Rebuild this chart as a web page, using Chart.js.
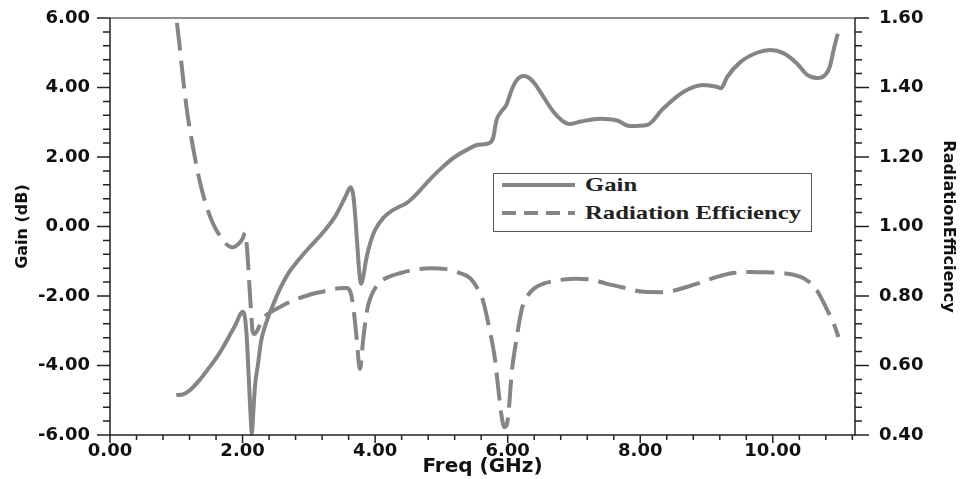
<!DOCTYPE html>
<html>
<head>
<meta charset="utf-8">
<script src="https://cdn.jsdelivr.net/npm/chart.js@4.4.1/dist/chart.umd.min.js"></script>
<style>
  html, body { margin: 0; padding: 0; background: #fff; }
  #wrap { position: relative; width: 961px; height: 479px; }
  #legend { position: absolute; left: 493px; top: 173px; width: 319px; height: 59px;
            border: 1.5px solid #555; background: #fff; box-sizing: border-box; }
  .row { position: absolute; left: 0; height: 24px; width: 100%; }
  .row svg { position: absolute; left: 8px; top: 9px; }
  .row span { position: absolute; left: 91px; top: 0; font-family: "Liberation Serif", serif;
              font-weight: bold; font-size: 19px; line-height: 24px; color: #222;
              transform: scaleX(1.3); transform-origin: left center; white-space: nowrap; }
</style>
</head>
<body>
<div id="wrap">
  <canvas id="c" width="961" height="479"></canvas>
  <div id="legend">
    <div class="row" style="top:-1px">
      <svg width="73" height="6"><line x1="0" y1="3" x2="73" y2="3" stroke="#858585" stroke-width="4"/></svg>
      <span id="lg0"></span>
    </div>
    <div class="row" style="top:27px">
      <svg width="73" height="6"><line x1="0" y1="3" x2="73" y2="3" stroke="#858585" stroke-width="4" stroke-dasharray="14 8"/></svg>
      <span id="lg1"></span>
    </div>
  </div>
</div>
<script>
// ---- data ----
const seriesNames = ["Gain", "Radiation Efficiency"];
const axisTitles = ["Freq (GHz)", "Gain (dB)", "RadiationEfficiency"];

const gainFreq = [1.00,1.10,1.20,1.35,1.50,1.65,1.80,1.90,1.96,2.00,2.03,2.06,2.09,2.12,2.14,2.16,2.19,2.23,2.28,2.36,2.45,2.55,2.70,2.85,3.00,3.20,3.40,3.55,3.63,3.67,3.70,3.73,3.76,3.79,3.82,3.87,3.93,4.00,4.12,4.25,4.38,4.48,4.60,4.80,5.00,5.20,5.40,5.55,5.72,5.78,5.83,5.90,5.98,6.06,6.14,6.24,6.32,6.42,6.54,6.69,6.82,6.94,7.10,7.40,7.65,7.85,8.10,8.35,8.65,8.95,9.15,9.22,9.31,9.51,9.76,9.96,10.16,10.36,10.52,10.67,10.80,10.86,10.92,10.98];
const gainVals = [-4.85,-4.83,-4.72,-4.42,-4.05,-3.65,-3.15,-2.80,-2.55,-2.45,-2.55,-3.10,-4.20,-5.40,-5.95,-5.40,-4.55,-4.00,-3.30,-2.75,-2.30,-1.85,-1.32,-0.95,-0.62,-0.20,0.30,0.85,1.13,0.90,0.30,-0.50,-1.30,-1.65,-1.45,-0.90,-0.45,-0.10,0.24,0.45,0.58,0.68,0.88,1.30,1.68,2.00,2.22,2.35,2.40,2.55,3.05,3.30,3.50,3.93,4.22,4.33,4.28,4.08,3.73,3.30,3.05,2.95,3.02,3.10,3.05,2.89,2.92,3.40,3.87,4.07,4.02,3.98,4.30,4.73,5.00,5.08,4.99,4.70,4.36,4.27,4.38,4.60,5.10,5.55];

const effFreq = [1.01,1.05,1.10,1.16,1.26,1.36,1.46,1.55,1.65,1.75,1.85,1.94,2.00,2.04,2.07,2.10,2.13,2.15,2.18,2.22,2.27,2.33,2.44,2.60,2.80,3.00,3.22,3.45,3.57,3.63,3.67,3.72,3.77,3.82,3.87,3.92,4.05,4.22,4.40,4.60,4.83,5.05,5.25,5.43,5.55,5.63,5.73,5.81,5.86,5.91,5.95,5.99,6.02,6.06,6.13,6.21,6.30,6.40,6.55,6.75,7.04,7.29,7.50,7.75,8.05,8.35,8.65,8.90,9.16,9.40,9.66,9.90,10.16,10.42,10.55,10.67,10.82,10.92,10.99];
const effVals = [1.586,1.52,1.43,1.335,1.22,1.125,1.056,1.01,0.975,0.950,0.940,0.950,0.965,0.982,0.93,0.84,0.75,0.70,0.69,0.70,0.72,0.74,0.755,0.772,0.790,0.803,0.813,0.822,0.823,0.81,0.77,0.68,0.59,0.675,0.75,0.79,0.836,0.856,0.867,0.876,0.880,0.878,0.868,0.852,0.82,0.785,0.70,0.616,0.53,0.452,0.423,0.432,0.48,0.578,0.673,0.76,0.800,0.822,0.836,0.845,0.850,0.846,0.835,0.824,0.812,0.811,0.823,0.838,0.855,0.866,0.869,0.868,0.866,0.855,0.840,0.815,0.76,0.72,0.682];

// axis ranges / tick steps
const xRange = [0, 11.24], xStep = 0.4, xMajor = 2;
const gainRange = [-6, 6], gainStep = 0.4, gainMajor = 2;
const effRange = [0.4, 1.6], effStep = 0.04, effMajor = 0.2;

document.getElementById('lg0').textContent = seriesNames[0];
document.getElementById('lg1').textContent = seriesNames[1];

const LINE = '#858585';
const tickFont = { family: 'DejaVu Sans', weight: 'bold', size: 18 };
const titleFont = { family: 'DejaVu Sans', weight: 'bold', size: 16 };
const isMajor = (v, m) => Math.abs(v / m - Math.round(v / m)) < 1e-6;

const framePlugin = {
  id: 'framePlugin',
  afterDatasetsDraw(chart) {
    const { ctx, chartArea: a, scales } = chart;
    ctx.save();
    ctx.lineWidth = 1.5;
    ctx.strokeStyle = '#666';
    ctx.beginPath(); ctx.moveTo(a.left, a.top); ctx.lineTo(a.right, a.top); ctx.stroke();
    ctx.strokeStyle = '#222';
    ctx.beginPath();
    ctx.moveTo(a.left, a.top); ctx.lineTo(a.left, a.bottom); ctx.lineTo(a.right, a.bottom); ctx.lineTo(a.right, a.top);
    ctx.stroke();
    ctx.beginPath();
    scales.y.ticks.forEach(t => {
      const p = scales.y.getPixelForValue(t.value);
      ctx.moveTo(a.left, p); ctx.lineTo(a.left - (isMajor(t.value, gainMajor) ? 13 : 7), p);
    });
    scales.y1.ticks.forEach(t => {
      const p = scales.y1.getPixelForValue(t.value);
      ctx.moveTo(a.right, p); ctx.lineTo(a.right + (isMajor(t.value, effMajor) ? 14 : 7), p);
    });
    scales.x.ticks.forEach(t => {
      const p = scales.x.getPixelForValue(t.value);
      ctx.moveTo(p, a.bottom); ctx.lineTo(p, a.bottom + (isMajor(t.value, xMajor) ? 8 : 5));
    });
    ctx.stroke();
    ctx.restore();
  }
};

const fitY = w => s => { s.width = w; s.paddingTop = 0; s.paddingBottom = 0; };

new Chart(document.getElementById('c'), {
  type: 'line',
  data: {
    datasets: [
      {
        label: seriesNames[0],
        data: gainFreq.map((f, i) => ({ x: f, y: gainVals[i] })),
        yAxisID: 'y',
        borderColor: LINE, borderWidth: 4, pointRadius: 0,
        cubicInterpolationMode: 'monotone', borderJoinStyle: 'round', fill: false
      },
      {
        label: seriesNames[1],
        data: effFreq.map((f, i) => ({ x: f, y: effVals[i] })),
        yAxisID: 'y1',
        borderColor: LINE, borderWidth: 4, pointRadius: 0, borderDash: [28, 10],
        cubicInterpolationMode: 'monotone', borderJoinStyle: 'round', fill: false
      }
    ]
  },
  options: {
    responsive: false,
    animation: false,
    events: [],
    layout: { padding: { top: 18, left: 0, right: 0, bottom: 0 } },
    plugins: { legend: { display: false }, tooltip: { enabled: false } },
    scales: {
      x: {
        type: 'linear', min: xRange[0], max: xRange[1],
        grid: { display: false, drawTicks: false }, border: { display: false },
        ticks: {
          stepSize: xStep, includeBounds: false, autoSkip: false, maxRotation: 0,
          font: tickFont, color: '#111', padding: 6,
          callback: v => isMajor(v, xMajor) ? Number(v).toFixed(2) : ''
        },
        title: { display: true, text: axisTitles[0], color: '#111',
                 font: { family: 'DejaVu Sans', weight: 'bold', size: 20 }, padding: 0 },
        afterFit: s => { s.height = 44; s.paddingLeft = 0; s.paddingRight = 0; }
      },
      y: {
        position: 'left', min: gainRange[0], max: gainRange[1],
        grid: { display: false, drawTicks: false }, border: { display: false },
        ticks: {
          stepSize: gainStep, autoSkip: false, font: tickFont, color: '#111', padding: 20,
          callback: v => isMajor(v, gainMajor) ? Number(v).toFixed(2) : ''
        },
        title: { display: true, text: axisTitles[1], color: '#111', font: titleFont, padding: 13 },
        afterFit: fitY(110)
      },
      y1: {
        position: 'right', min: effRange[0], max: effRange[1],
        grid: { display: false, drawTicks: false }, border: { display: false },
        ticks: {
          stepSize: effStep, autoSkip: false, font: tickFont, color: '#111', padding: 24,
          callback: v => isMajor(v, effMajor) ? Number(v).toFixed(2) : ''
        },
        title: { display: true, text: axisTitles[2], color: '#111', font: titleFont, padding: 3 },
        afterFit: fitY(106)
      }
    }
  },
  plugins: [framePlugin]
});
</script>
</body>
</html>
